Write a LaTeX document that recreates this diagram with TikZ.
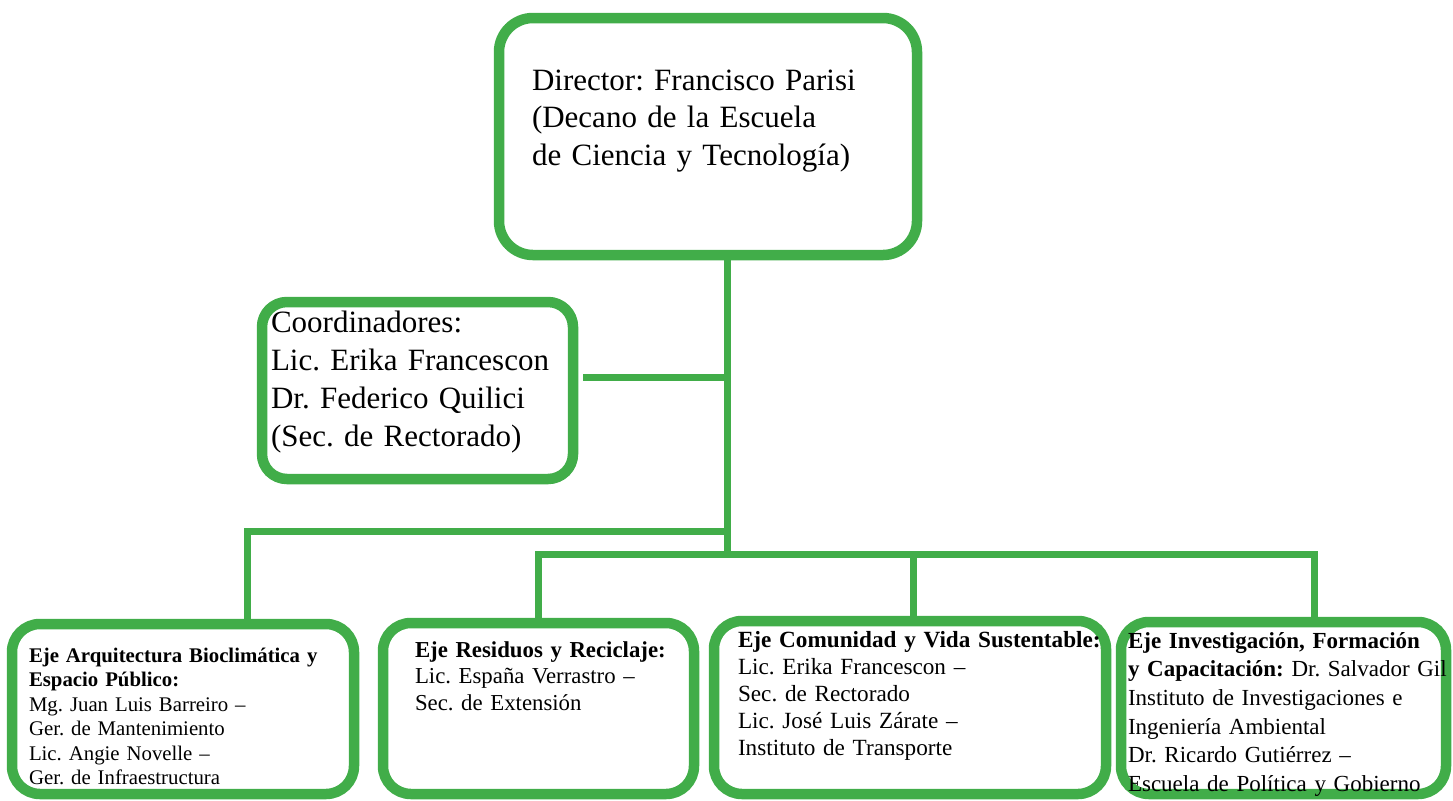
\documentclass[tikz,border=0pt]{standalone}
\usepackage{fontspec}
\setmainfont{Liberation Serif}
\usepackage{tikz}
\usetikzlibrary{calc}
\definecolor{verde}{RGB}{65,173,73}
\frenchspacing

\begin{document}
\begin{tikzpicture}[x=0.5pt, y=-0.5pt, caja/.style = {draw=verde, line width=5.25pt, rounded corners=14pt, anchor=north west, align=left, outer sep=0pt, inner ysep=0pt}, linea/.style = {verde, line width=3.5pt}]
\useasboundingbox (0,0) rectangle (1453,800);
\node[caja, rounded corners=17pt, inner xsep=16.5pt, text width=176pt, text height=36pt, text depth=82.5pt, font=\fontsize{15.5}{18.75}\selectfont] (1) at (499,18) {Director: Francisco Parisi\\(Decano de la Escuela\\de Ciencia y Tecnología)};
\node[caja, rounded corners=12.5pt, inner xsep=4.5pt, text width=146.5pt, text height=15pt, text depth=73.5pt, font=\fontsize{15.5}{19}\selectfont] (2) at (262,302) {Coordinadores:\\Lic. Erika Francescon\\Dr. Federico Quilici\\(Sec. de Rectorado)};
\node[caja, inner xsep=8.5pt, text width=154pt, text height=19pt, text depth=66pt, font=\fontsize{10.4}{12.25}\selectfont] (3) at (12,624) {\textbf{Eje Arquitectura Bioclimática y}\\\textbf{Espacio Público:}\\Mg. Juan Luis Barreiro –\\Ger. de Mantenimiento\\Lic. Angie Novelle –\\Ger. de Infraestructura};
\node[caja, inner xsep=16pt, text width=123.5pt, text height=17pt, text depth=68.5pt, font=\fontsize{11.4}{13.25}\selectfont] (4) at (383,623) {\mbox{\textbf{Eje Residuos y Reciclaje:}}\\Lic. España Verrastro –\\Sec. de Extensión};
\node[caja, inner xsep=12pt, text width=172pt, text height=13pt, text depth=73.5pt, font=\fontsize{11.6}{13.6}\selectfont] (5) at (714,621) {\mbox{\textbf{Eje Comunidad y Vida Sustentable:}}\\Lic. Erika Francescon –\\Sec. de Rectorado\\Lic. José Luis Zárate –\\Instituto de Transporte};
\node[caja, inner xsep=3.5pt, text width=155.5pt, text height=13pt, text depth=73pt, font=\fontsize{11.5}{14.35}\selectfont] (6) at (1121,622) {\textbf{Eje Investigación, Formación}\\\mbox{\textbf{y Capacitación:} Dr. Salvador Gil}\\Instituto de Investigaciones e\\Ingeniería Ambiental\\Dr. Ricardo Gutiérrez –\\Escuela de Política y Gobierno};
\coordinate (a) at (727,377);
\coordinate (b) at (727,531);
\coordinate (c) at (727,554);
\coordinate (d1) at (247,531);
\coordinate (d2) at (538,554);
\coordinate (d3) at (913,554);
\coordinate (d4) at (1314,554);
\draw[linea] (1.south -| a) -- (c);
\draw[linea, shorten >=5pt] (a) -- (a -| 2.east);
\draw[linea] (b) -| (3.north -| d1);
\draw[linea] (4.north -| d2) |- (d4) -- (6.north -| d4);
\draw[linea] (d3) -- (5.north -| d3);
\end{tikzpicture}
\end{document}
